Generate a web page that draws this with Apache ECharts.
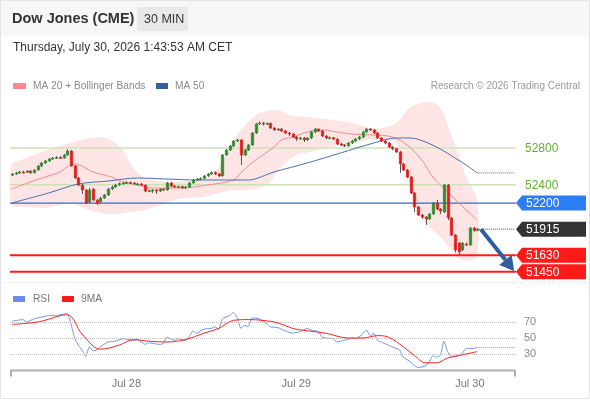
<!DOCTYPE html>
<html><head><meta charset="utf-8">
<script src="https://cdn.jsdelivr.net/npm/echarts@6/dist/echarts.min.js"></script>
<style>html,body{margin:0;padding:0;background:#fff}#c{width:590px;height:400px}</style>
</head><body><div id="c"></div>
<script>
// ---------- DATA ----------
const tickLabels = ['Jul 28', 'Jul 29', 'Jul 30'];
const tickIndex = [31, 77, 124];
const slotCount = 137;
// [open, close, low, high]
const candles = [
[52505,52517,52495,52528],[52517,52528,52506,52539],[52528,52539,52517,52550],[52539,52535,52522,52552],
[52535,52549,52528,52560],[52549,52530,52520,52560],[52530,52560,52525,52571],[52560,52604,52555,52615],
[52604,52637,52595,52648],[52637,52659,52626,52670],[52659,52680,52648,52691],[52680,52691,52670,52702],
[52691,52697,52680,52710],[52697,52690,52680,52713],[52690,52724,52685,52735],[52724,52768,52715,52785],
[52768,52604,52595,52778],[52604,52473,52462,52615],[52473,52397,52386,52484],[52397,52342,52299,52408],
[52342,52201,52190,52353],[52212,52342,52201,52364],[52353,52233,52222,52364],[52233,52201,52179,52244],
[52212,52255,52201,52266],[52255,52288,52244,52299],[52288,52353,52277,52364],[52353,52375,52342,52391],
[52375,52397,52364,52410],[52397,52413,52386,52424],[52413,52419,52402,52432],[52419,52424,52408,52437],
[52424,52419,52406,52435],[52419,52408,52397,52428],[52408,52408,52395,52420],[52408,52397,52386,52419],
[52397,52331,52320,52402],[52331,52335,52320,52346],[52335,52342,52310,52353],[52342,52331,52300,52350],
[52331,52353,52320,52362],[52353,52342,52330,52360],[52342,52419,52335,52430],[52419,52386,52375,52428],
[52386,52375,52364,52395],[52375,52380,52366,52390],[52380,52364,52353,52388],[52364,52375,52355,52386],
[52375,52419,52368,52430],[52419,52451,52410,52462],[52451,52462,52440,52473],[52462,52468,52451,52480],
[52468,52495,52460,52506],[52495,52517,52486,52528],[52517,52533,52506,52544],[52533,52517,52506,52546],
[52517,52495,52484,52528],[52495,52724,52490,52735],[52724,52778,52715,52790],[52778,52822,52768,52833],
[52822,52877,52811,52888],[52877,52888,52866,52900],[52888,52724,52615,52898],[52724,52778,52713,52790],
[52778,52833,52768,52844],[52833,52964,52822,52975],[52964,53062,52953,53073],[53062,53073,53051,53090],
[53073,53062,53045,53084],[53062,53068,53051,53080],[53068,53018,53007,53078],[53018,52997,52986,53029],
[52997,53007,52986,53018],[53007,52986,52975,53018],[52986,52964,52953,52997],[52964,52953,52931,52975],
[52953,52920,52909,52964],[52920,52898,52877,52931],[52898,52909,52888,52920],[52909,52888,52866,52920],
[52888,52909,52877,52920],[52909,52975,52898,52986],[52975,53007,52964,53018],[53007,52986,52975,53013],
[52986,52931,52920,52997],[52931,52909,52898,52942],[52909,52912,52898,52925],[52912,52898,52888,52920],
[52898,52844,52833,52905],[52844,52833,52822,52855],[52833,52822,52811,52844],[52822,52855,52815,52866],
[52855,52877,52844,52888],[52877,52898,52866,52909],[52898,52920,52888,52931],[52920,52975,52909,52986],
[52975,53007,52964,53018],[53007,52997,52986,53018],[52997,52964,52953,53007],[52964,52909,52898,52975],
[52909,52877,52866,52920],[52877,52855,52844,52888],[52855,52811,52800,52866],[52811,52795,52778,52822],
[52795,52757,52746,52800],[52757,52626,52528,52768],[52626,52560,52550,52637],[52560,52484,52473,52571],
[52484,52310,52299,52495],[52310,52157,52102,52320],[52157,52070,52059,52168],[52070,52048,52026,52081],
[52048,52026,51961,52059],[52026,52081,52015,52092],[52081,52201,52070,52212],[52201,52135,52124,52233],
[52135,52113,52081,52146],[52102,52397,52092,52408],[52397,52037,52015,52408],[52037,51852,51841,52048],
[51852,51688,51660,51863],[51764,51666,51634,51775],[51688,51764,51677,51775],[51753,51743,51732,51770],
[51743,51928,51732,51939],[51928,51900,51890,51940],[51900,51915,51895,51925]
];
const ma20 = [[0,52353],[5,52430],[9,52484],[13,52539],[17,52626],[22,52539],[27,52484],[30,52430],[34,52397],[38,52364],[42,52364],[46,52364],[53,52397],[60,52451],[62,52528],[65,52637],[68,52724],[71,52811],[73,52888],[76,52920],[80,52975],[84,52997],[88,52975],[92,52953],[98,52942],[103,52920],[107,52833],[111,52669],[114,52484],[118,52321],[121,52201],[126,52015]];
const upperBand = [[0,52615],[4,52691],[8,52757],[12,52811],[16,52855],[20,52898],[24,52920],[27,52888],[30,52778],[33,52582],[36,52473],[40,52440],[44,52430],[48,52440],[52,52462],[55,52539],[58,52724],[61,52942],[64,53084],[67,53182],[72,53215],[75,53160],[80,53138],[87,53106],[92,53073],[96,53029],[100,53018],[104,53073],[108,53247],[112,53302],[115,53280],[117,53160],[119,52942],[121,52724],[123,52484],[126,52233]];
const lowerBand = [[0,52179],[4,52157],[8,52146],[12,52168],[16,52201],[20,52135],[24,52092],[28,52081],[32,52102],[36,52124],[40,52179],[44,52233],[48,52255],[52,52266],[56,52310],[60,52342],[64,52342],[69,52397],[73,52593],[77,52724],[81,52757],[85,52800],[92,52855],[96,52888],[101,52888],[104,52855],[107,52506],[110,52102],[113,51939],[116,51830],[119,51688],[121,51590],[124,51579],[126,51612]];
const ma50 = [[0,52201],[10,52310],[18,52408],[26,52440],[34,52473],[42,52462],[50,52451],[58,52451],[64,52451],[71,52539],[80,52637],[89,52746],[98,52855],[104,52909],[108,52909],[112,52866],[116,52789],[120,52691],[123,52615],[126,52528]];
const lastPrice = 51915;
const ma50Last = 52528;
const levels = [52800, 52400, 52200, 51915, 51630, 51450];
const trendArrow = [127, 51915, 136, 51460];
const rsi = [[0,71],[3,73],[4,70],[6,74],[8,76],[10,78],[12,78],[14,80],[15,81],[16,68],[17,50],[18,41],[19,35],[20,27],[21,39],[22,34],[23,35],[24,39],[26,45],[28,46],[30,49],[33,47],[34,48],[36,42],[37,44],[40,42],[41,43],[42,51],[44,47],[45,49],[47,47],[48,51],[49,59],[50,56],[52,61],[54,62],[55,64],[56,61],[57,74],[59,78],[60,82],[61,76],[62,62],[63,66],[64,64],[65,75],[67,74],[69,68],[70,64],[72,63],[74,59],[76,56],[78,58],[80,62],[81,60],[83,58],[84,51],[85,50],[87,49],[88,45],[90,47],[92,50],[93,49],[95,55],[96,60],[97,53],[98,56],[99,47],[100,45],[102,41],[103,39],[105,35],[106,26],[108,20],[109,15],[110,13],[112,15],[113,20],[114,28],[115,26],[116,28],[117,46],[118,33],[119,27],[121,28],[122,31],[123,37],[125,37],[126,38]];
const rsiMA = [[0,67],[7,70],[15,79],[19,55],[24,36],[29,41],[33,48],[37,46],[42,45],[47,48],[52,56],[56,62],[60,72],[64,73],[68,72],[72,69],[76,62],[80,59],[85,56],[91,50],[95,50],[99,53],[102,51],[106,39],[109,28],[112,19],[115,19],[118,25],[121,28],[126,33]];
const rsiLast = 38;
const rsiLevels = [70, 50, 30];

// ---------- STYLES ----------
const FONT = 'Liberation Sans, Arial, sans-serif';
const levelStyles = [
  {line:'#cce4b3', lw:1.6, text:'#62b02e'},
  {line:'#cce4b3', lw:1.6, text:'#62b02e'},
  {line:'#3069d8', lw:1.2, tag:'#2b7cf6'},
  {tag:'#333333'},
  {line:'#ff1a1a', lw:2, tag:'#ff1a1a'},
  {line:'#ff1a1a', lw:2, tag:'#ff1a1a'}
];
const categories = Array.from({length: slotCount}, (_, i) => String(i));
const labelAt = i => { const k = tickIndex.indexOf(i); return k >= 0 ? tickLabels[k] : ''; };

const chart = echarts.init(document.getElementById('c'), null, {renderer: 'canvas'});
const levelData = levels.map((v, k) => [k, v]);
const T = (x, y, text, font, fill, extra) => ({type: 'text', z: 10, x, y,
  style: Object.assign({text, font: font + ' ' + FONT, fill, textVerticalAlign: 'middle', verticalAlign: 'middle'}, extra || {})});

const option = {
  animation: false,
  backgroundColor: '#ffffff',
  textStyle: {fontFamily: FONT},
  grid: [
    {left: 10, right: 74, top: 93, height: 188},
    {left: 10, right: 74, top: 298, height: 72}
  ],
  xAxis: [
    {type: 'category', gridIndex: 0, data: categories, boundaryGap: true, show: false},
    {type: 'category', gridIndex: 1, data: categories, boundaryGap: true,
     axisLine: {show: false}, axisTick: {show: false}, splitLine: {show: false},
     axisLabel: {interval: (i) => tickIndex.includes(i), formatter: (v, i) => labelAt(i),
                 color: '#777', fontSize: 11, fontFamily: FONT, margin: 8}}
  ],
  yAxis: [
    {type: 'value', gridIndex: 0, min: 51350, max: 53400, show: false, splitLine: {show: false}},
    {type: 'value', gridIndex: 1, min: 10, max: 100, show: false, splitLine: {show: false}}
  ],
  graphic: [
    {type: 'rect', z: 0, shape: {x: 0, y: 0, width: 590, height: 36}, style: {fill: '#f7f7f7'}},
    {type: 'rect', z: 100, shape: {x: 0.5, y: 0.5, width: 589, height: 398}, style: {fill: 'none', stroke: '#e4e4e4', lineWidth: 1}},
    {type: 'line', z: 1, shape: {x1: 0, y1: 282.5, x2: 590, y2: 282.5}, style: {stroke: '#e6e6e6', lineWidth: 1, lineDash: [2, 2]}},
    T(12, 19, 'Dow Jones (CME)', 'bold 14.5px', '#333'),
    {type: 'rect', z: 9, shape: {x: 137, y: 7, width: 51, height: 24, r: 2}, style: {fill: '#e9e9e9'}},
    T(144, 19.5, '30 MIN', '12.5px', '#333'),
    T(13, 48, 'Thursday, July 30, 2026 1:43:53 AM CET', '12px', '#333'),
    {type: 'rect', z: 10, shape: {x: 13, y: 83, width: 13, height: 6}, style: {fill: '#ff8888'}},
    T(33, 86, 'MA 20 + Bollinger Bands', '10.2px', '#888'),
    {type: 'rect', z: 10, shape: {x: 156, y: 83, width: 12, height: 6}, style: {fill: '#3a5e9c'}},
    T(175, 86, 'MA 50', '10.2px', '#888'),
    T(580, 86, 'Research © 2026 Trading Central', '10px', '#999', {textAlign: 'right', align: 'right'}),
    {type: 'rect', z: 10, shape: {x: 13, y: 296, width: 12, height: 6}, style: {fill: '#6b8fe8'}},
    T(33, 299, 'RSI', '10.2px', '#777'),
    {type: 'rect', z: 10, shape: {x: 62, y: 296, width: 12, height: 6}, style: {fill: '#ff1a1a'}},
    T(81, 299, '9MA', '10.2px', '#777')
  ],
  series: [
    {type: 'custom', name: 'band', xAxisIndex: 0, yAxisIndex: 0, z: 1, silent: true, clip: false,
     data: [[0, lastPrice]], encode: {x: 0, y: 1},
     renderItem: (params, api) => {
       const pts = upperBand.map(p => api.coord(p)).concat(lowerBand.slice().reverse().map(p => api.coord(p)));
       return {type: 'polygon', shape: {points: pts, smooth: 0.3}, style: {fill: 'rgba(250,160,160,0.28)'}};
     }},
    {type: 'custom', name: 'levelLines', xAxisIndex: 0, yAxisIndex: 0, z: 2, silent: true, clip: false,
     data: levelData, encode: {x: 0, y: 1},
     renderItem: (params, api) => {
       const k = api.value(0), v = api.value(1), st = levelStyles[k];
       if (!st.line) return null;
       const y = api.coord([0, v])[1];
       const cs = params.coordSys;
       return {type: 'line', shape: {x1: cs.x, y1: y, x2: cs.x + cs.width, y2: y}, style: {stroke: st.line, lineWidth: st.lw}};
     }},
    {type: 'line', name: 'MA20', xAxisIndex: 0, yAxisIndex: 0, z: 3, silent: true, data: ma20, smooth: 0.4,
     showSymbol: false, lineStyle: {color: '#f08a8a', width: 1}},
    {type: 'line', name: 'MA50', xAxisIndex: 0, yAxisIndex: 0, z: 3, silent: true, data: ma50, smooth: 0.3,
     showSymbol: false, lineStyle: {color: '#4b6fb0', width: 1}},
    {type: 'line', name: 'MA50ext', xAxisIndex: 0, yAxisIndex: 0, z: 3, silent: true,
     data: [[126, ma50Last], [136, ma50Last]], showSymbol: false, lineStyle: {color: '#4b6fb0', width: 1, type: 'dotted'}},
    {type: 'line', name: 'lastExt', xAxisIndex: 0, yAxisIndex: 0, z: 3, silent: true,
     data: [[126, lastPrice], [136, lastPrice]], showSymbol: false, lineStyle: {color: '#444', width: 1, type: 'dotted'}},
    {type: 'custom', name: 'candles', xAxisIndex: 0, yAxisIndex: 0, z: 5, silent: true,
     data: candles.map((c, i) => [i, c[0], c[1], c[2], c[3]]), encode: {x: 0, y: [1, 2, 3, 4]},
     renderItem: (params, api) => {
       const i = api.value(0), o = api.value(1), c = api.value(2), l = api.value(3), h = api.value(4);
       const pO = api.coord([i, o]), pC = api.coord([i, c]), pL = api.coord([i, l]), pH = api.coord([i, h]);
       const w = api.size([1, 0])[0] * 0.72;
       const col = c >= o ? '#2e8b2e' : '#e41b1b';
       const top = Math.min(pO[1], pC[1]), bot = Math.max(pO[1], pC[1]);
       const xc = Math.round(pO[0]) + 0.5;
       return {type: 'group', children: [
         {type: 'line', shape: {x1: xc, y1: pH[1], x2: xc, y2: pL[1]}, style: {stroke: '#555', lineWidth: 1}},
         {type: 'rect', shape: {x: xc - w / 2, y: top, width: w, height: Math.max(bot - top, 1)}, style: {fill: col, stroke: col, lineWidth: 0.4}}
       ]};
     }},
    {type: 'custom', name: 'arrow', xAxisIndex: 0, yAxisIndex: 0, z: 8, silent: true, clip: false,
     data: [[trendArrow[0], trendArrow[1]]], encode: {x: 0, y: 1},
     renderItem: (params, api) => {
       const a = api.coord([trendArrow[0], trendArrow[1]]), b = api.coord([trendArrow[2], trendArrow[3]]);
       const dx = b[0] - a[0], dy = b[1] - a[1], L = Math.hypot(dx, dy), ux = dx / L, uy = dy / L;
       const hl = 14, hw = 8;
       const bx = b[0] - ux * hl, by = b[1] - uy * hl;
       return {type: 'group', children: [
         {type: 'line', shape: {x1: a[0], y1: a[1], x2: bx, y2: by}, style: {stroke: '#2f5f9e', lineWidth: 4}},
         {type: 'polygon', shape: {points: [[b[0], b[1]], [bx - uy * hw, by + ux * hw], [bx + uy * hw, by - ux * hw]]}, style: {fill: '#2f5f9e'}}
       ]};
     }},
    {type: 'custom', name: 'tags', xAxisIndex: 0, yAxisIndex: 0, z: 10, silent: true, clip: false,
     data: levelData, encode: {x: 0, y: 1},
     renderItem: (params, api) => {
       const k = api.value(0), v = api.value(1), st = levelStyles[k];
       const y = api.coord([0, v])[1];
       const cs = params.coordSys, x1 = cs.x + cs.width;
       const children = [];
       if (st.tag) {
         children.push({type: 'polygon', shape: {points: [[x1, y], [x1 + 6, y - 7.5], [586, y - 7.5], [586, y + 7.5], [x1 + 6, y + 7.5]]}, style: {fill: st.tag}});
         children.push({type: 'text', x: x1 + 10, y: y + 0.5, style: {text: String(v), font: '12px ' + FONT, fill: '#fff', textVerticalAlign: 'middle', verticalAlign: 'middle'}});
       } else {
         children.push({type: 'text', x: x1 + 9, y: y + 0.5, style: {text: String(v), font: '12px ' + FONT, fill: st.text, textVerticalAlign: 'middle', verticalAlign: 'middle'}});
       }
       return {type: 'group', children};
     }},
    {type: 'line', name: 'RSI', xAxisIndex: 1, yAxisIndex: 1, z: 4, silent: true, data: rsi, smooth: 0.15,
     showSymbol: false, lineStyle: {color: '#7093ec', width: 1},
     markLine: {silent: true, symbol: ['none', 'none'], animation: false,
       lineStyle: {color: '#bdbdbd', type: 'dotted', width: 1},
       label: {position: 'end', formatter: '{c}', color: '#888', fontSize: 11, fontFamily: FONT, distance: 8},
       data: rsiLevels.map(v => ({yAxis: v}))}},
    {type: 'line', name: 'RSIext', xAxisIndex: 1, yAxisIndex: 1, z: 4, silent: true,
     data: [[126, rsiLast], [136, rsiLast]], showSymbol: false, lineStyle: {color: '#7093ec', width: 1, type: 'dotted'}},
    {type: 'line', name: '9MA', xAxisIndex: 1, yAxisIndex: 1, z: 5, silent: true, data: rsiMA, smooth: 0.35,
     showSymbol: false, lineStyle: {color: '#ff2020', width: 1}},
    {type: 'custom', name: 'rsiAxis', xAxisIndex: 1, yAxisIndex: 1, z: 3, silent: true, clip: false,
     data: [[0, 10]], encode: {x: 0, y: 1},
     renderItem: (params, api) => {
       const cs = params.coordSys, yb = cs.y + cs.height + 0.5;
       return {type: 'polyline', shape: {points: [[cs.x + 1, yb + 6], [cs.x + 1, yb], [cs.x + cs.width - 1, yb], [cs.x + cs.width - 1, yb + 6]]},
               style: {stroke: '#b0b0b0', lineWidth: 2, fill: 'none'}};
     }}
  ]
};
chart.setOption(option);
</script>
</body></html>
